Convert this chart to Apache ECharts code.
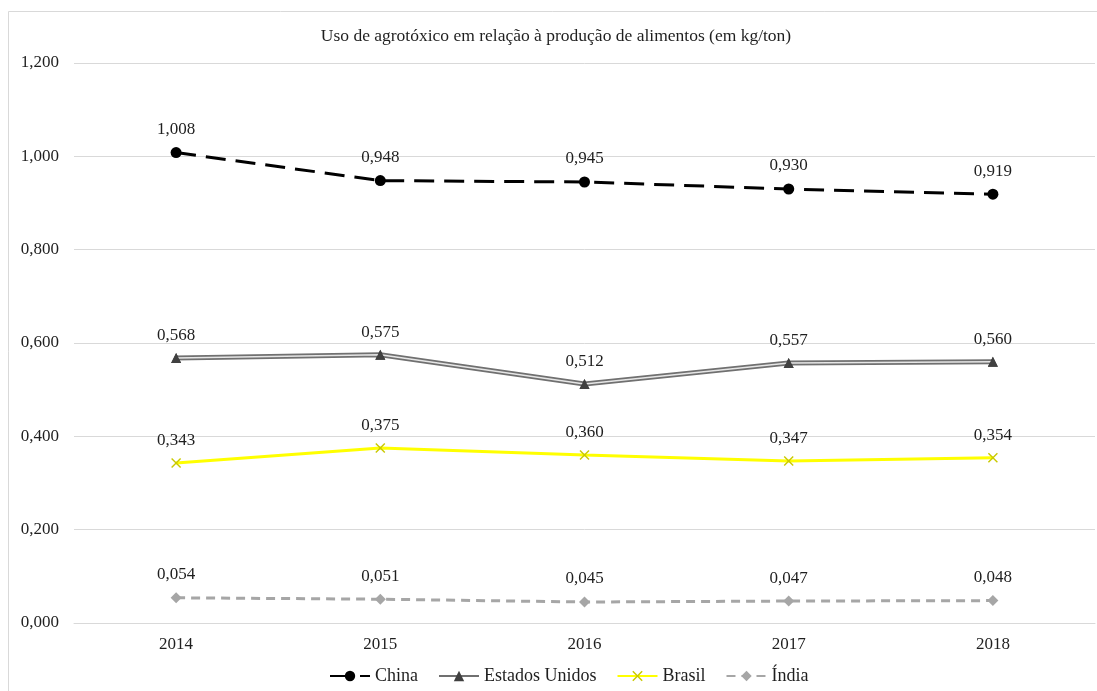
<!DOCTYPE html>
<html>
<head>
<meta charset="utf-8">
<script src="https://cdn.jsdelivr.net/npm/echarts@6/dist/echarts.min.js"></script>
<style>
  html, body { margin: 0; padding: 0; background: #ffffff; }
  #chart { width: 1097px; height: 691px; }
</style>
</head>
<body>
<div id="chart"></div>
<script>
// Pesticide use relative to food production (kg/ton)
const years = ['2014', '2015', '2016', '2017', '2018'];
const china = [1.008, 0.948, 0.945, 0.930, 0.919];
const estadosUnidos = [0.568, 0.575, 0.512, 0.557, 0.560];
const brasil = [0.343, 0.375, 0.360, 0.347, 0.354];
const india = [0.054, 0.051, 0.045, 0.047, 0.048];
const yTicks = [0, 0.2, 0.4, 0.6, 0.8, 1.0, 1.2];

const FONT = '"Liberation Serif", "DejaVu Serif", serif';
const TEXT = '#1f1f1f';
const fmt = v => v.toFixed(3).replace('.', ',');
const crossPath = 'path://M0,1 L1,0 L5,4 L9,0 L10,1 L6,5 L10,9 L9,10 L5,6 L1,10 L0,9 L4,5 Z';

function valueLabel() {
  return {
    show: true,
    position: 'top',
    distance: 9,
    fontFamily: FONT,
    fontSize: 17,
    color: TEXT,
    formatter: p => fmt(p.value)
  };
}

const chart = echarts.init(document.getElementById('chart'), null, { renderer: 'canvas' });

chart.setOption({
  animation: false,
  backgroundColor: '#ffffff',
  title: {
    text: 'Uso de agrotóxico em relação à produção de alimentos (em kg/ton)',
    left: 551,
    textAlign: 'center',
    top: 22,
    textStyle: { fontFamily: FONT, fontSize: 17.5, fontWeight: 'normal', color: TEXT }
  },
  graphic: [
    { type: 'line', shape: { x1: 8.5, y1: 11.5, x2: 1097, y2: 11.5 }, style: { stroke: '#d9d9d9', lineWidth: 1 }, silent: true },
    { type: 'line', shape: { x1: 8.5, y1: 11.5, x2: 8.5, y2: 691 }, style: { stroke: '#d9d9d9', lineWidth: 1 }, silent: true }
  ],
  grid: { left: 74, right: 2, top: 63, bottom: 68, containLabel: false },
  legend: {
    bottom: 1,
    left: 324,
    itemWidth: 40,
    itemHeight: 13,
    itemGap: 20,
    data: ['China', 'Estados Unidos', 'Brasil', 'Índia'],
    textStyle: { fontFamily: FONT, fontSize: 18, color: TEXT }
  },
  xAxis: {
    type: 'category',
    data: years,
    boundaryGap: true,
    axisLine: { lineStyle: { color: '#d9d9d9', width: 1 } },
    axisTick: { show: false },
    axisLabel: { fontFamily: FONT, fontSize: 17, color: TEXT, margin: 13 }
  },
  yAxis: {
    type: 'value',
    min: yTicks[0],
    max: yTicks[yTicks.length - 1],
    interval: 0.2,
    axisLine: { show: false },
    axisTick: { show: false },
    splitLine: { lineStyle: { color: '#d9d9d9', width: 1 } },
    axisLabel: { fontFamily: FONT, fontSize: 17, color: TEXT, margin: 15, formatter: v => fmt(v) }
  },
  series: [
    {
      name: 'China',
      type: 'line',
      data: china,
      z: 5,
      symbol: 'circle',
      symbolSize: 11,
      itemStyle: { color: '#000000' },
      lineStyle: { color: '#000000', width: 3, type: [20, 10] },
      label: valueLabel()
    },
    {
      name: 'Estados Unidos',
      type: 'line',
      data: estadosUnidos,
      z: 3,
      symbol: 'triangle',
      symbolSize: 10,
      itemStyle: { color: '#404040' },
      lineStyle: { color: '#707070', width: 5 }
    },
    {
      // inner stroke of the double line
      name: 'eua-inner',
      type: 'line',
      data: estadosUnidos,
      z: 4,
      silent: true,
      showSymbol: false,
      lineStyle: { color: '#e6e6e6', width: 1.5 },
      tooltip: { show: false }
    },
    {
      // triangle markers drawn above the double line
      name: 'eua-markers',
      type: 'line',
      data: estadosUnidos,
      z: 5,
      symbol: 'triangle',
      symbolSize: 10,
      itemStyle: { color: '#404040' },
      lineStyle: { width: 0, opacity: 0 },
      label: valueLabel()
    },
    {
      name: 'Brasil',
      type: 'line',
      data: brasil,
      z: 5,
      symbol: crossPath,
      symbolSize: 10,
      itemStyle: { color: '#c9c900' },
      lineStyle: { color: '#ffff00', width: 3 },
      label: valueLabel()
    },
    {
      name: 'Índia',
      type: 'line',
      data: india,
      z: 5,
      symbol: 'diamond',
      symbolSize: 11,
      itemStyle: { color: '#a6a6a6' },
      lineStyle: { color: '#a6a6a6', width: 3, type: [9, 6] },
      label: valueLabel()
    }
  ]
});
</script>
</body>
</html>
